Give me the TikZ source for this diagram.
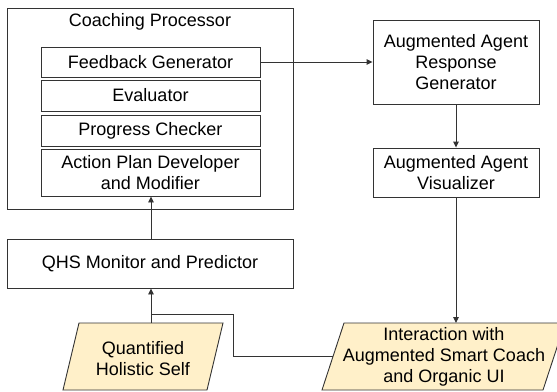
\documentclass[tikz,border=0pt]{standalone}
\usepackage{fontspec}
\setmainfont{Liberation Sans}
\usetikzlibrary{arrows.meta}
\definecolor{edge}{HTML}{333333}
\definecolor{cream}{HTML}{FFF0C9}
\begin{document}
\begin{tikzpicture}[x=1pt,y=-1pt,
  every node/.style={font=\fontsize{18}{21}\selectfont, text=black, align=center, inner sep=0pt},
  box/.style={draw=edge, line width=0.9pt, fill=white},
  inbox/.style={box},
  io/.style={draw=edge, line width=0.9pt, fill=cream},
  link/.style={draw=edge, line width=0.9pt},
  arr/.style={link, -{Triangle[length=6pt,width=5.5pt]}}]
\useasboundingbox (0,0) rectangle (557,391);
\clip (0,0) rectangle (557,391);

% coaching processor and its parts
\node[box, minimum width=286pt, minimum height=201pt] (cp) at (150,108.5) {};
\node (cptitle) at (150,22) {Coaching Processor};
\node[inbox, minimum width=219pt, minimum height=30pt] (fg) at (150.5,62) {Feedback Generator};
\node[inbox, minimum width=219pt, minimum height=31pt] (ev) at (150.5,95.5) {Evaluator};
\node[inbox, minimum width=219pt, minimum height=31pt] (pc) at (150.5,130.5) {Progress Checker};
\node[inbox, minimum width=219pt, minimum height=47pt] (ap) at (150.5,172.5) {Action Plan Developer\\and Modifier};

% agent side
\node[box, minimum width=166pt, minimum height=84pt] (aarg) at (456,62) {Augmented Agent\\Response\\Generator};
\node[box, minimum width=166pt, minimum height=49pt] (aav) at (456,172.5) {Augmented Agent\\Visualizer};

% monitor
\node[box, minimum width=286pt, minimum height=49pt] (qhs) at (150,263.5) {QHS Monitor and Predictor};

% input / output parallelograms
\path[io] (63,390) -- (207,390) -- (223,323) -- (79,323) -- cycle;
\node (qself) at (143,359) {Quantified\\Holistic Self};
\path[io] (322,390) -- (543,390) -- (565,323) -- (344,323) -- cycle;
\node (inter) at (444,357) {Interaction with\\Augmented Smart Coach\\and Organic UI};

\coordinate (qtop) at (151,323);
\coordinate (itop) at (456,323);
\coordinate (ileft) at (333,356);
\coordinate (bendlow) at (233,356);
\coordinate (bendhigh) at (233,314);
\coordinate (join) at (151,314);

% connectors
\draw[arr] (fg.east) -- (fg.east -| aarg.west);
\draw[arr] (aarg.south) -- (aav.north);
\draw[arr] (aav.south) -- (itop);
\draw[arr] (qhs.north -| 151,0) -- (ap.south -| 151,0);
\draw[arr] (qtop) -- (qtop |- qhs.south);
\draw[link] (ileft) -- (bendlow) -- (bendhigh) -- (join);
\end{tikzpicture}
\end{document}
